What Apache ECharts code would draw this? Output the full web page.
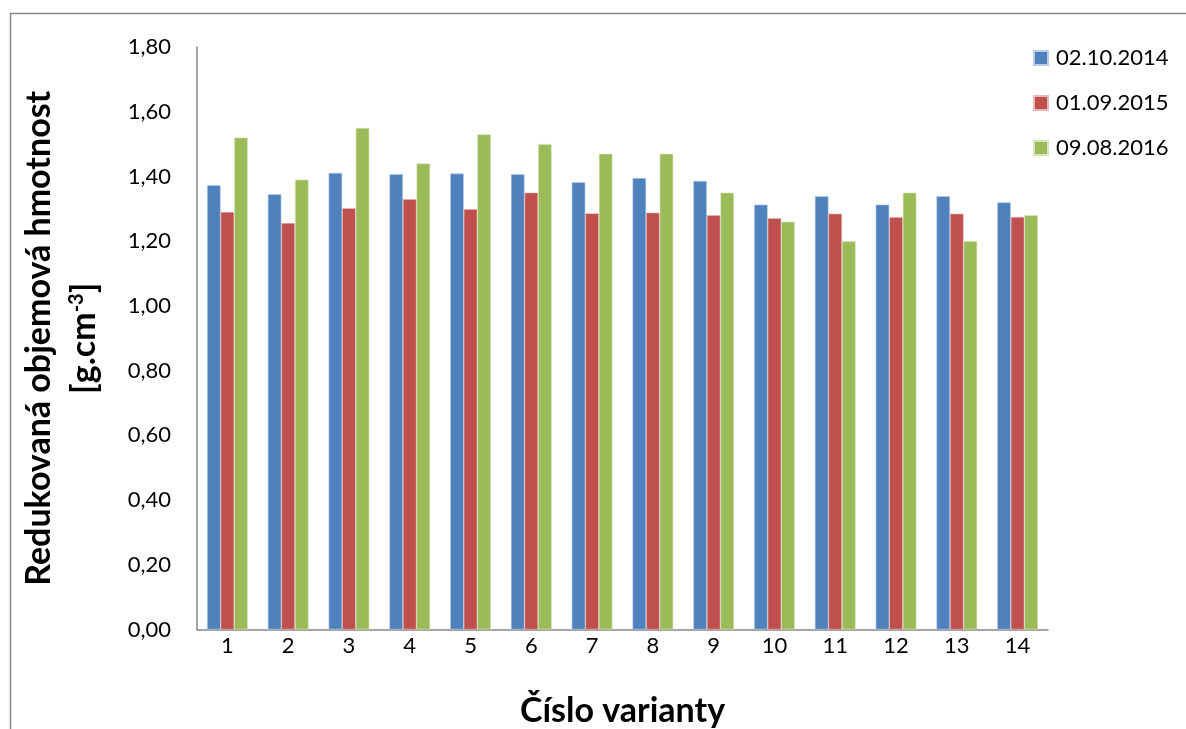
<!DOCTYPE html>
<html>
<head>
<meta charset="utf-8">
<script src="https://cdn.jsdelivr.net/npm/echarts@6/dist/echarts.min.js"></script>
<style>
  html, body { margin: 0; padding: 0; background: #fff; }
  #chart { width: 1186px; height: 729px; }
</style>
</head>
<body>
<div id="chart"></div>
<script>
// Reduced bulk density per variant, three sampling dates
const categories = ['1', '2', '3', '4', '5', '6', '7', '8', '9', '10', '11', '12', '13', '14'];
const seriesNames = ['02.10.2014', '01.09.2015', '09.08.2016'];
const values2014 = [1.373, 1.345, 1.411, 1.407, 1.409, 1.407, 1.382, 1.395, 1.386, 1.313, 1.339, 1.313, 1.339, 1.320];
const values2015 = [1.290, 1.256, 1.302, 1.330, 1.299, 1.350, 1.286, 1.288, 1.280, 1.271, 1.285, 1.274, 1.285, 1.275];
const values2016 = [1.52, 1.39, 1.55, 1.44, 1.53, 1.50, 1.47, 1.47, 1.35, 1.26, 1.20, 1.35, 1.20, 1.28];
const yTicks = { min: 0, max: 1.8, step: 0.2 };

const colors = ['#4F81BD', '#C0504D', '#9BBB59'];
const edgeColors = ['#B9CDE5', '#E6B9B8', '#D7E4BD'];
const FONT = 'Lato, "Open Sans", sans-serif';
const axisGray = '#868686';

const chart = echarts.init(document.getElementById('chart'), null, { renderer: 'canvas' });

const dataSets = [values2014, values2015, values2016];

chart.setOption({
  animation: false,
  backgroundColor: '#ffffff',
  textStyle: { fontFamily: FONT },
  graphic: [{
    type: 'rect',
    shape: { x: 10.5, y: 13.5, width: 1400, height: 900 },
    style: { fill: 'none', stroke: axisGray, lineWidth: 1.5 },
    silent: true,
    z: -1
  }],
  grid: {
    left: 197, right: 138, top: 47, bottom: 99.5,
    containLabel: false,
    outerBoundsMode: 'none'
  },
  legend: {
    orient: 'vertical',
    left: 1033,
    top: 47,
    padding: 0,
    itemWidth: 14,
    itemHeight: 14,
    itemGap: 23,
    icon: 'rect',
    textStyle: { fontSize: 22, color: '#000', fontFamily: FONT, padding: [0, 0, 0, 3] },
    data: seriesNames
  },
  xAxis: {
    type: 'category',
    data: categories,
    name: 'Číslo varianty',
    nameLocation: 'middle',
    nameGap: 65,
    nameTextStyle: { fontSize: 34, fontWeight: 'bold', color: '#000', fontFamily: FONT },
    axisLine: { lineStyle: { color: axisGray, width: 1.5 } },
    axisTick: { show: false },
    axisLabel: { fontSize: 22, color: '#000', margin: 5, fontFamily: FONT }
  },
  yAxis: {
    type: 'value',
    min: yTicks.min,
    max: yTicks.max,
    interval: yTicks.step,
    name: '{a|Redukovaná objemová hmotnost}\n{a|[g.cm}{sup|-3}{a|]}',
    nameLocation: 'middle',
    nameRotate: 90,
    nameGap: 90,
    nameTextStyle: {
      color: '#000',
      lineHeight: 45,
      rich: {
        a: { fontSize: 34, fontWeight: 'bold', color: '#000', fontFamily: FONT, lineHeight: 45 },
        sup: { fontSize: 20, fontWeight: 'bold', color: '#000', fontFamily: FONT, lineHeight: 45, padding: [0, 0, 16, 0] }
      }
    },
    axisLine: { show: true, lineStyle: { color: axisGray, width: 1.5 } },
    axisTick: { show: false },
    splitLine: { show: false },
    axisLabel: {
      fontSize: 22,
      color: '#000',
      margin: 26,
      fontFamily: FONT,
      formatter: v => v.toFixed(2).replace('.', ',')
    }
  },
  series: seriesNames.map((name, i) => ({
    name,
    type: 'bar',
    data: dataSets[i],
    barGap: '0%',
    barCategoryGap: '33%',
    itemStyle: { color: colors[i], borderColor: edgeColors[i], borderWidth: 0.6 }
  }))
});
</script>
</body>
</html>
